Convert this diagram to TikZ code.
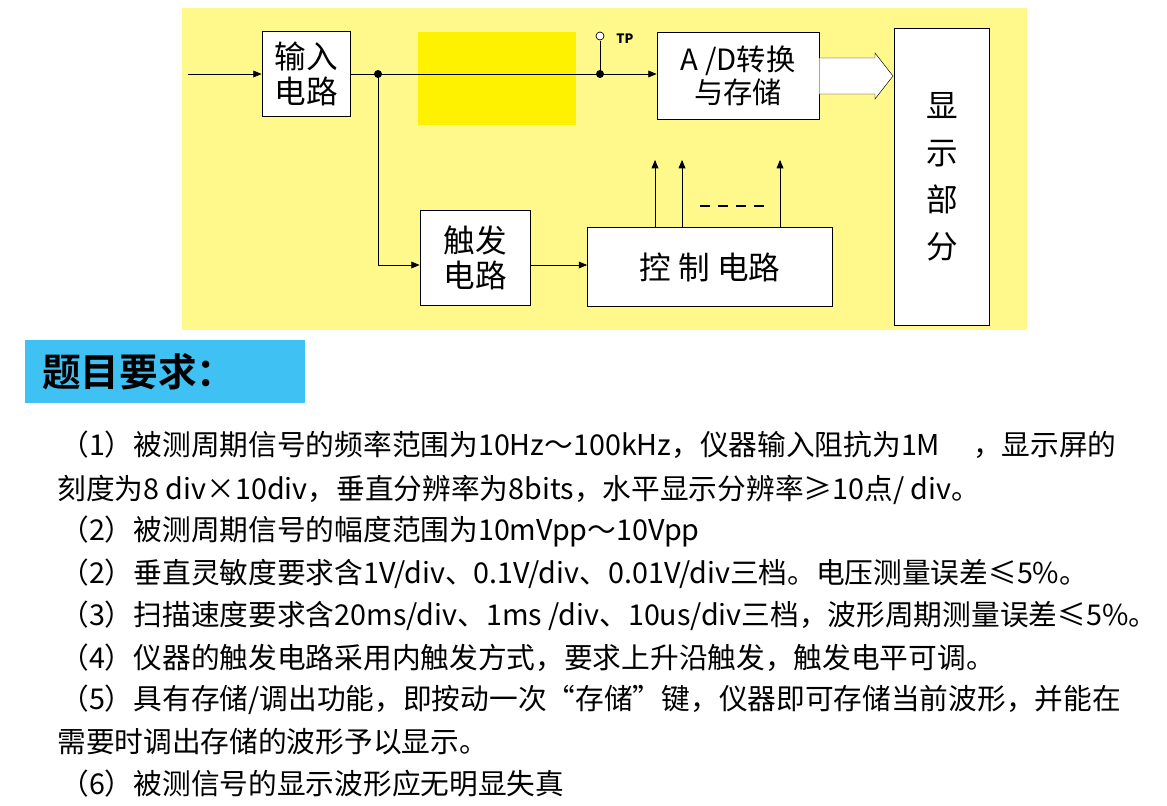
\documentclass[tikz,border=0pt]{standalone}
\usepackage{fontspec}
\setmainfont{Noto Sans CJK SC}
\newfontfamily\cjkbold[BoldFont={* Bold}]{Noto Sans CJK SC}
\usetikzlibrary{arrows, shapes}
\tikzset{
  blk/.style={draw, thick, fill=white},
  lbl/.style={font=\fontsize{27}{36}\selectfont, align=center},
  line/.style={anchor=west, inner sep=0pt, font=\fontsize{24.5}{28}\selectfont},
}
\begin{document}
\begin{tikzpicture}[x=0.03cm, y=-0.03cm, >=triangle 45, semithick]
  \useasboundingbox (0,0) rectangle (1167,806);
  \fill[white] (0,0) rectangle (1167,806);
  \fill[yellow!45] (182,8) rectangle (1027,330);
  \fill[yellow] (418,32) rectangle (576,125);

  % blocks
  \node[blk, minimum width=88*0.03cm, minimum height=85*0.03cm, lbl] (in) at (306,74) {输入\\[-6pt]电路};
  \node[blk, minimum width=162*0.03cm, minimum height=87*0.03cm, lbl, font=\fontsize{25}{34}\selectfont] (ad) at (738,76) {A /D转换\\[-6pt]与存储};
  \node[blk, very thick, minimum width=95*0.03cm, minimum height=297*0.03cm, lbl, font=\fontsize{27}{40}\selectfont] (disp) at (942,177) {显\\示\\部\\分};
  \node[blk, minimum width=110*0.03cm, minimum height=95*0.03cm, lbl] (trig) at (475,258) {触发\\[-6pt]电路};
  \node[blk, minimum width=245*0.03cm, minimum height=79*0.03cm, lbl] (ctrl) at (710,267) {控 制 电路};

  \coordinate (src) at (188,74);
  \coordinate (j) at (378,74);
  \coordinate (tp) at (600,74);
  \coordinate (tptop) at (600,36);

  \draw[->] (src) -- (in.west |- src);
  \draw[->] (in.east |- j) -- (ad.west |- j);
  \fill (j) circle (4);
  \fill (tp) circle (4);
  \draw (tp) -- ++(0,-33);
  \draw[fill=white] (tptop) circle (4);
  \node[anchor=west, font=\fontsize{11}{12}\bfseries] (tplbl) at (612,39) {TP};
  \draw[->] (j) |- (trig.west |- 0,265);
  \draw[->] (trig.east |- 0,265) -- (ctrl.west |- 0,265);
  \foreach \x in {655,682,780}
    \draw[->] (ctrl.north -| \x,0) -- (\x,160);
  \draw[very thick] (700,206) -- (710,206) (718,206) -- (728,206) (736,206) -- (746,206) (754,206) -- (764,206);
  \draw[fill=white, thin] (ad.east |- 0,58) -- (875,58) -- (875,53) -- (893,76) -- (875,99) -- (875,94) -- (ad.east |- 0,94);

  % requirements
  \node[fill=cyan!75!white, minimum width=280*0.03cm, minimum height=63*0.03cm, anchor=north west, font=\fontsize{33}{36}\bfseries\cjkbold] (title) at (25,340) {\hspace{-45pt}题目要求：};
  \node[line] (r1) at (60,445) {（1）被测周期信号的频率范围为10Hz～100kHz，仪器输入阻抗为1M\hspace{28pt}，显示屏的};
  \node[line] (r1b) at (57,490) {刻度为8 div×10div，垂直分辨率为8bits，水平显示分辨率≥10点/ div。};
  \node[line] (r2) at (60,531) {（2）被测周期信号的幅度范围为10mVpp～10Vpp};
  \node[line] (r3) at (60,574) {（2）垂直灵敏度要求含1V/div、0.1V/div、0.01V/div三档。电压测量误差≤5\%。};
  \node[line] (r4) at (60,616) {（3）扫描速度要求含20ms/div、1ms /div、10us/div三档，波形周期测量误差≤5\%。};
  \node[line] (r5) at (60,658) {（4）仪器的触发电路采用内触发方式，要求上升沿触发，触发电平可调。};
  \node[line] (r6) at (60,700) {（5）具有存储/调出功能，即按动一次“存储”键，仪器即可存储当前波形，并能在};
  \node[line] (r6b) at (57,742) {需要时调出存储的波形予以显示。};
  \node[line] (r7) at (60,784) {（6）被测信号的显示波形应无明显失真};
\end{tikzpicture}
\end{document}
